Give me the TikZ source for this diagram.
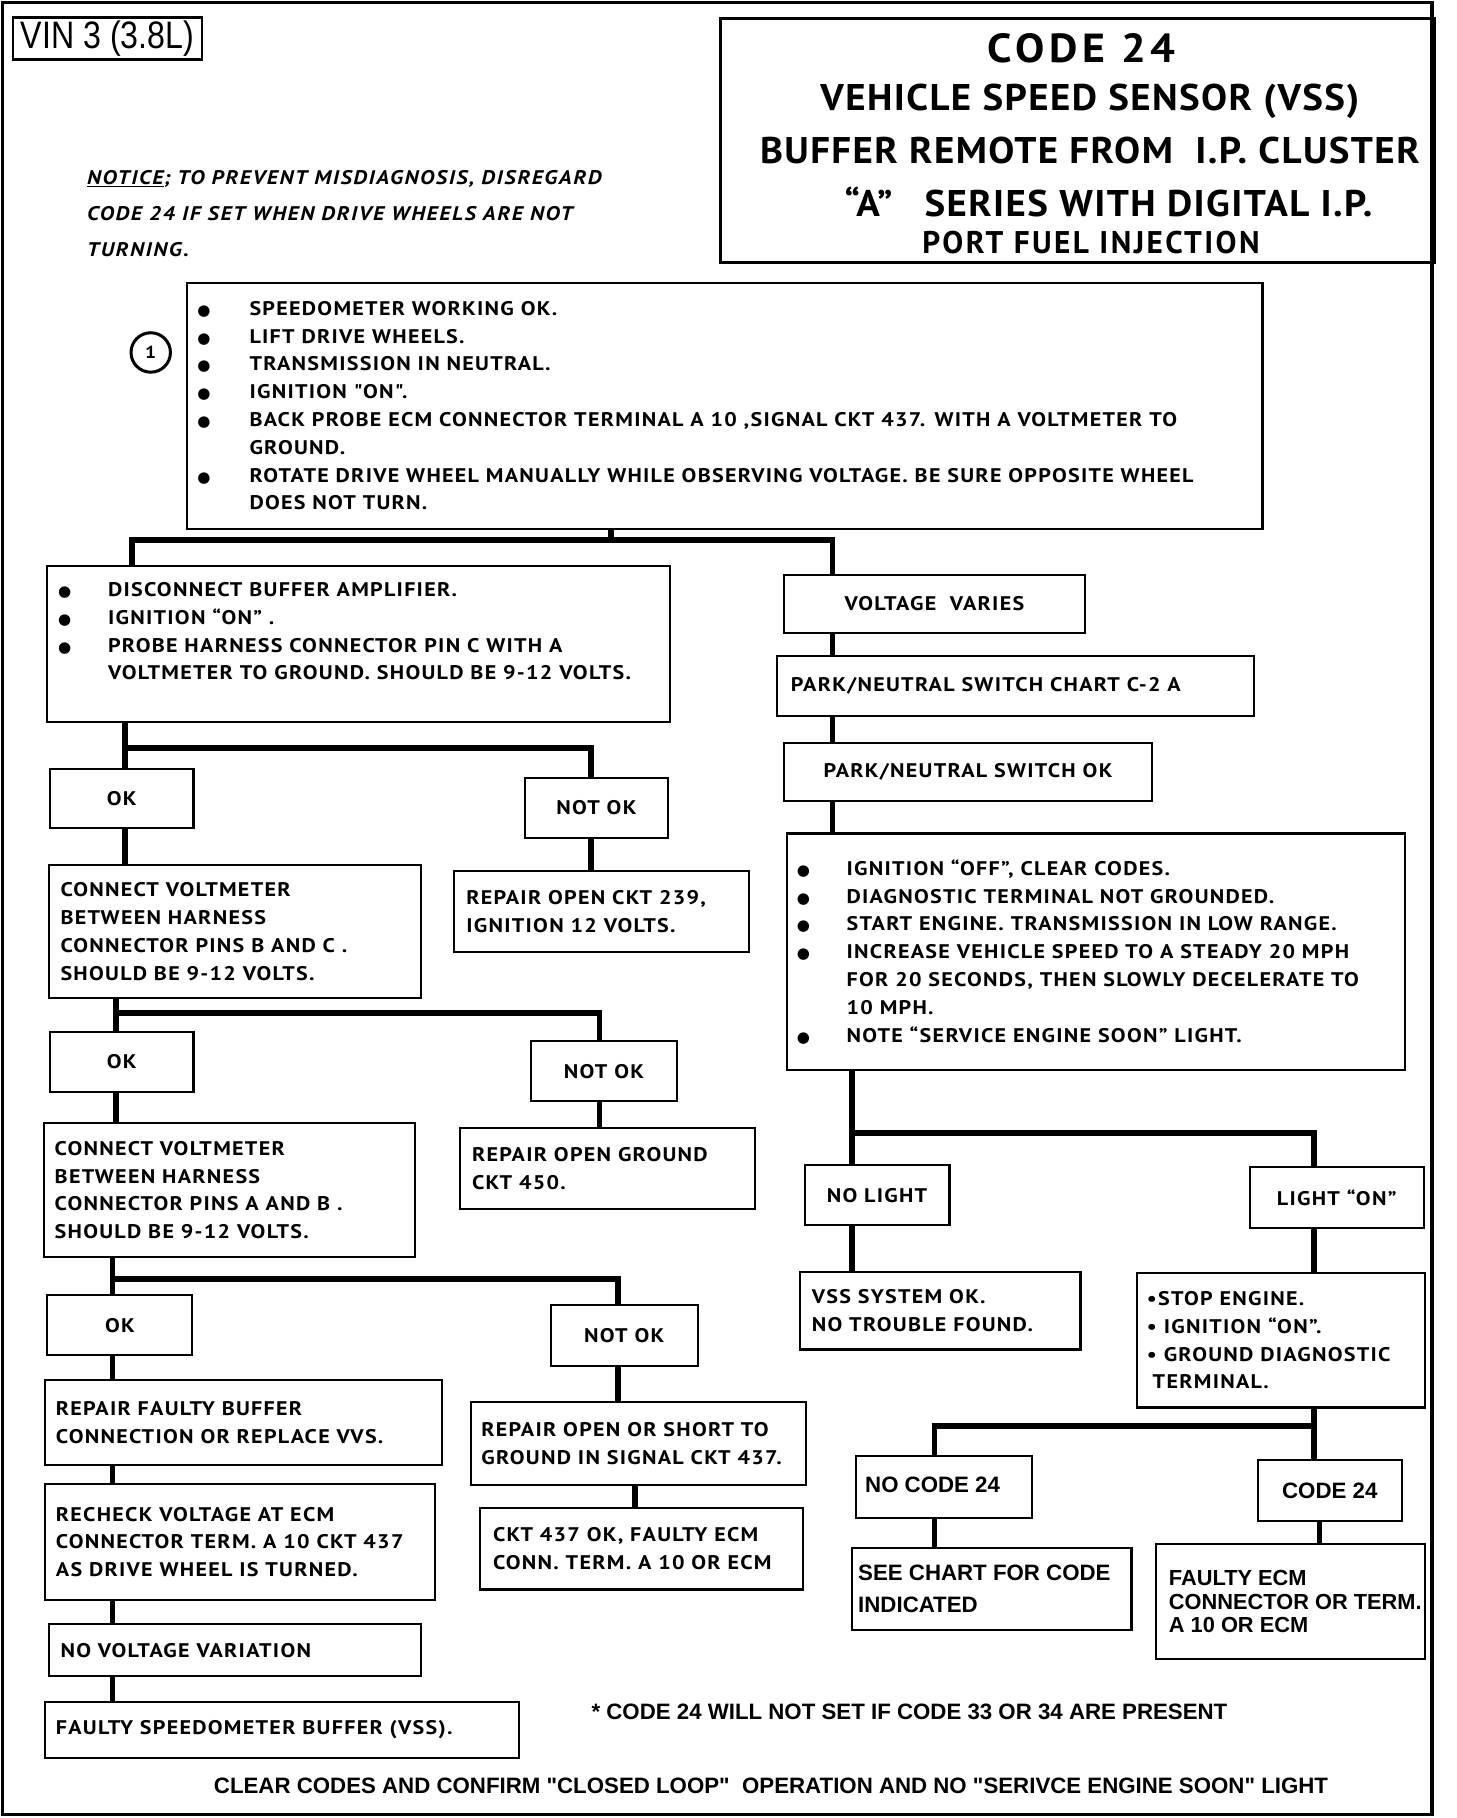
\documentclass[tikz,border=0pt]{standalone}
\usepackage{fontspec}
\setmainfont{PT Sans}
\newfontfamily\bxf{PT Sans}[FakeStretch=1.12, LetterSpace=6.4]
\newfontfamily\ttlf{PT Sans}[FakeStretch=1.08, LetterSpace=11.5]
\newfontfamily\ttlg{PT Sans}[FakeStretch=1.05, LetterSpace=3.8]
\newfontfamily\ttlh{PT Sans}[LetterSpace=7.8]
\newfontfamily\ntf{PT Sans}[FakeStretch=1.12, LetterSpace=8]
\newfontfamily\anf{Liberation Sans}[FakeStretch=0.84]
\newfontfamily\arb{Liberation Sans}
\newfontfamily\dvs{DejaVu Sans}
\usetikzlibrary{calc}
\newcommand\boxfont{\bxf\bfseries\fontsize{17}{24}\selectfont}
\newcommand\anbfont{\arb\bfseries\fontsize{19.2}{27}\selectfont}
\newcommand\bul[1]{\makebox[#1][l]{\hspace*{-1pt}{\dvs\fontsize{13}{13}\selectfont ●}}}
\tikzset{
 bx/.style={draw, line width=1.8pt, anchor=north west, inner sep=0pt, rectangle},
 wh/.style 2 args={minimum width=#1pt, minimum height=#2pt},
 bt/.style={anchor=west, inner sep=0pt, align=left, font=\boxfont},
 ct/.style={font=\boxfont, align=center},
 conn/.style={line width=5pt, line join=miter},
}
\begin{document}
\begin{tikzpicture}[x=1pt,y=-1pt]
\useasboundingbox (0,0) rectangle (1256,1568);
\draw[line width=3pt] (2,2) rectangle (1235,1565);

% header
\node[bx, line width=2.4pt, wh={163}{36}, font=\anf\fontsize{33}{36}\selectfont] (vin) at (10,14) {VIN 3 (3.8L)};
\node[bx, line width=2.6pt, wh={616}{210}] (title) at (620,15) {};
\node[font=\ttlf\bfseries\fontsize{35}{40}\selectfont, inner sep=0pt] (t1) at (933,42) {CODE 24};
\node[font=\ttlg\bfseries\fontsize{32}{36}\selectfont, inner sep=0pt] (t2) at (940,87) {VEHICLE SPEED SENSOR (VSS)};
\node[font=\ttlg\bfseries\fontsize{32}{36}\selectfont, inner sep=0pt] (t3) at (940,130) {BUFFER REMOTE FROM\ \ I.P. CLUSTER};
\node[font=\ttlg\bfseries\fontsize{32}{36}\selectfont, inner sep=0pt] (t4) at (956,174) {“A”\hspace{18pt} SERIES WITH DIGITAL I.P.};
\node[font=\ttlh\bfseries\fontsize{27}{30}\selectfont, inner sep=0pt] (t5) at (941,209) {PORT FUEL INJECTION};

\node[anchor=west, inner sep=0pt, align=left, font=\ntf\bfseries\itshape\fontsize{17}{31}\selectfont] (notice) at (75,184)
 {\underline{NOTICE}; TO PREVENT MISDIAGNOSIS, DISREGARD\\ CODE 24 IF SET WHEN DRIVE WHEELS ARE NOT\\ TURNING.};

\node[draw, circle, line width=2.6pt, minimum size=34pt, inner sep=0pt, font=\bxf\bfseries\fontsize{15}{15}\selectfont] (c1) at (130,304) {1};

% left column boxes
\node[bx, wh={928}{212}] (A) at (160,243) {};
\node[bt] (At) at ([xshift=11pt]A.west)
 {\bul{44pt}SPEEDOMETER WORKING OK.\\
  \bul{44pt}LIFT DRIVE WHEELS.\\
  \bul{44pt}TRANSMISSION IN NEUTRAL.\\
  \bul{44pt}IGNITION "ON".\\
  \bul{44pt}BACK PROBE ECM CONNECTOR TERMINAL A 10 ,SIGNAL CKT 437. WITH A VOLTMETER TO\\
  \hspace*{44pt}GROUND.\\
  \bul{44pt}ROTATE DRIVE WHEEL MANUALLY WHILE OBSERVING VOLTAGE. BE SURE OPPOSITE WHEEL\\
  \hspace*{44pt}DOES NOT TURN.};

\node[bx, wh={537}{135}] (B) at (40,487) {};
\node[bt] (Bt) at ([xshift=11pt,yshift=11pt]B.west)
 {\bul{42pt}DISCONNECT BUFFER AMPLIFIER.\\
  \bul{42pt}IGNITION “ON” .\\
  \bul{42pt}PROBE HARNESS CONNECTOR PIN C WITH A\\
  \hspace*{42pt}VOLTMETER TO GROUND. SHOULD BE 9-12 VOLTS.};

\node[bx, wh={124}{51}, ct] (ok1) at (42,662) {OK};
\node[bx, wh={123}{52}, ct] (nok1) at (452,670) {NOT OK};

\node[bx, wh={321}{115}] (C) at (41,745) {};
\node[bt] (Ct) at ([xshift=11pt]C.west)
 {CONNECT VOLTMETER\\ BETWEEN HARNESS\\ CONNECTOR PINS B AND C .\\ SHOULD BE 9-12 VOLTS.};
\node[bx, wh={254}{70}] (R1) at (391,750) {};
\node[bt] (R1t) at ([xshift=11pt]R1.west) {REPAIR OPEN CKT 239,\\ IGNITION 12 VOLTS.};

\node[bx, wh={124}{52}, ct] (ok2) at (42,889) {OK};
\node[bx, wh={126}{52}, ct] (nok2) at (457,897) {NOT OK};

\node[bx, wh={320}{115}] (D) at (37,968) {};
\node[bt] (Dt) at ([xshift=10pt]D.west)
 {CONNECT VOLTMETER\\ BETWEEN HARNESS\\ CONNECTOR PINS A AND B .\\ SHOULD BE 9-12 VOLTS.};
\node[bx, wh={254}{70}] (R2) at (396,972) {};
\node[bt] (R2t) at ([xshift=11pt]R2.west) {REPAIR OPEN GROUND\\ CKT 450.};

\node[bx, wh={125}{52}, ct] (ok3) at (40,1116) {OK};
\node[bx, wh={127}{52}, ct] (nok3) at (474,1125) {NOT OK};

\node[bx, wh={342}{74}] (E) at (38,1189) {};
\node[bt] (Et) at ([xshift=10pt]E.west) {REPAIR FAULTY BUFFER\\ CONNECTION OR REPLACE VVS.};
\node[bx, wh={289}{72}] (F) at (405,1208) {};
\node[bt] (Ft) at ([xshift=10pt]F.west) {REPAIR OPEN OR SHORT TO\\ GROUND IN SIGNAL CKT 437.};

\node[bx, wh={336}{100}] (G) at (38,1279) {};
\node[bt] (Gt) at ([xshift=10pt]G.west) {RECHECK VOLTAGE AT ECM\\ CONNECTOR TERM. A 10 CKT 437\\ AS DRIVE WHEEL IS TURNED.};
\node[bx, wh={279}{70}] (H) at (413,1300) {};
\node[bt] (Ht) at ([xshift=12pt]H.west) {CKT 437 OK, FAULTY ECM\\ CONN. TERM. A 10 OR ECM};

\node[bx, wh={321}{45}] (I) at (41,1400) {};
\node[bt] (It) at ([xshift=11pt]I.west) {NO VOLTAGE VARIATION};
\node[bx, wh={409}{48}] (J) at (38,1467) {};
\node[bt] (Jt) at ([xshift=10pt]J.west) {FAULTY SPEEDOMETER BUFFER (VSS).};

% right column
\node[bx, wh={260}{50}, ct] (VV) at (675,495) {VOLTAGE\ \ VARIES};
\node[bx, wh={412}{52}] (PN) at (669,565) {};
\node[bt] (PNt) at ([xshift=13pt]PN.west) {PARK/NEUTRAL SWITCH CHART C-2 A};
\node[bx, wh={318}{50}, ct] (PNOK) at (675,640) {PARK/NEUTRAL SWITCH OK};

\node[bx, wh={533}{204}] (K) at (678,718) {};
\node[bt] (Kt) at ([xshift=10pt]K.west)
 {\bul{42pt}IGNITION “OFF”, CLEAR CODES.\\
  \bul{42pt}DIAGNOSTIC TERMINAL NOT GROUNDED.\\
  \bul{42pt}START ENGINE. TRANSMISSION IN LOW RANGE.\\
  \bul{42pt}INCREASE VEHICLE SPEED TO A STEADY 20 MPH\\
  \hspace*{42pt}FOR 20 SECONDS, THEN SLOWLY DECELERATE TO\\
  \hspace*{42pt}10 MPH.\\
  \bul{42pt}NOTE “SERVICE ENGINE SOON” LIGHT.};

\node[bx, wh={125}{52}, ct] (NL) at (693,1004) {NO LIGHT};
\node[bx, wh={150}{52}, ct] (LO) at (1077,1006) {LIGHT “ON”};
\node[bx, wh={242}{67}] (VSS) at (689,1096) {};
\node[bt] (VSSt) at ([xshift=11pt]VSS.west) {VSS SYSTEM OK.\\ NO TROUBLE FOUND.};
\node[bx, wh={248}{116}] (STOP) at (980,1097) {};
\node[bt] (STOPt) at ([xshift=9pt]STOP.west) {\textbullet STOP ENGINE.\\ \textbullet\ IGNITION “ON”.\\ \textbullet\ GROUND DIAGNOSTIC\\ \hspace*{5pt}TERMINAL.};

\node[bx, wh={152}{53}] (NC) at (737,1255) {};
\node[anchor=west, inner sep=0pt, font=\anbfont] (NCt) at ([xshift=9pt,yshift=2pt]NC.west) {NO CODE 24};
\node[bx, wh={124}{53}, font=\anbfont] (C24) at (1084,1258) {CODE 24};
\node[bx, wh={241}{71}] (SC) at (734,1334) {};
\node[anchor=west, inner sep=0pt, align=left, font=\arb\bfseries\fontsize{19.2}{27}\selectfont] (SCt) at ([xshift=6pt]SC.west) {SEE CHART FOR CODE\\ INDICATED};
\node[bx, wh={232}{99}] (FE) at (996,1331) {};
\node[anchor=west, inner sep=0pt, align=left, font=\arb\bfseries\fontsize{18.8}{20.5}\selectfont] (FEt) at ([xshift=12pt]FE.west) {FAULTY ECM\\ CONNECTOR OR TERM.\\ A 10 OR ECM};

% footer
\node[anchor=west, inner sep=0pt, font=\anbfont] (n1) at (510,1476) {* CODE 24 WILL NOT SET IF CODE 33 OR 34 ARE PRESENT};
\node[inner sep=0pt, font=\anbfont] (n2) at (665,1540) {CLEAR CODES AND CONFIRM "CLOSED LOOP"\ \ OPERATION AND NO "SERIVCE ENGINE SOON" LIGHT};

% connectors
\coordinate (j1) at (527,466); \coordinate (j1l) at (114,466); \coordinate (j1r) at (718,466);
\draw[conn] (A.south -| j1) -- (j1);
\draw[conn] (B.north -| j1l) -- (j1l) -- (j1r) -- (VV.north -| j1r);

\coordinate (j2) at (108,645); \coordinate (j2r) at (510,645);
\draw[conn] (B.south -| j2) -- (ok1.north -| j2);
\draw[conn] (j2) -- (j2r) -- (nok1.north -| j2r);
\draw[conn] (ok1.south -| j2) -- (C.north -| j2);
\draw[conn] (nok1.south -| j2r) -- (R1.north -| j2r);

\coordinate (j3) at (100,874); \coordinate (j3r) at (517,874);
\draw[conn] (C.south -| j3) -- (ok2.north -| j3);
\draw[conn] (j3) -- (j3r) -- (nok2.north -| j3r);
\draw[conn] (ok2.south -| j3) -- (D.north -| j3);
\draw[conn] (nok2.south -| j3r) -- (R2.north -| j3r);

\coordinate (j4) at (97,1103); \coordinate (j4r) at (533,1103);
\draw[conn] (D.south -| j4) -- (ok3.north -| j4);
\draw[conn] (j4) -- (j4r) -- (nok3.north -| j4r);
\draw[conn] (ok3.south -| j4) -- (E.north -| j4);
\draw[conn] (E.south -| j4) -- (G.north -| j4);
\draw[conn] (G.south -| j4) -- (I.north -| j4);
\draw[conn] (I.south -| j4) -- (J.north -| j4);
\draw[conn] (nok3.south -| j4r) -- (F.north -| j4r);
\coordinate (xf) at (548,1290);
\draw[conn] (F.south -| xf) -- (H.north -| xf);

\draw[conn] (VV.south -| j1r) -- (PN.north -| j1r);
\draw[conn] (PN.south -| j1r) -- (PNOK.north -| j1r);
\draw[conn] (PNOK.south -| j1r) -- (K.north -| j1r);

\coordinate (j5) at (735,977); \coordinate (j5r) at (1133,977);
\draw[conn] (K.south -| j5) -- (NL.north -| j5);
\draw[conn] (j5) -- (j5r) -- (LO.north -| j5r);
\draw[conn] (NL.south -| j5) -- (VSS.north -| j5);
\draw[conn] (LO.south -| j5r) -- (STOP.north -| j5r);

\coordinate (j6) at (1133,1230); \coordinate (j6l) at (806,1230);
\draw[conn] (STOP.south -| j6) -- (C24.north -| j6);
\draw[conn] (j6) -- (j6l) -- (NC.north -| j6l);
\draw[conn] (NC.south -| j6l) -- (SC.north -| j6l);
\coordinate (xfe) at (1138,1320);
\draw[conn] (C24.south -| xfe) -- (FE.north -| xfe);
\end{tikzpicture}
\end{document}
